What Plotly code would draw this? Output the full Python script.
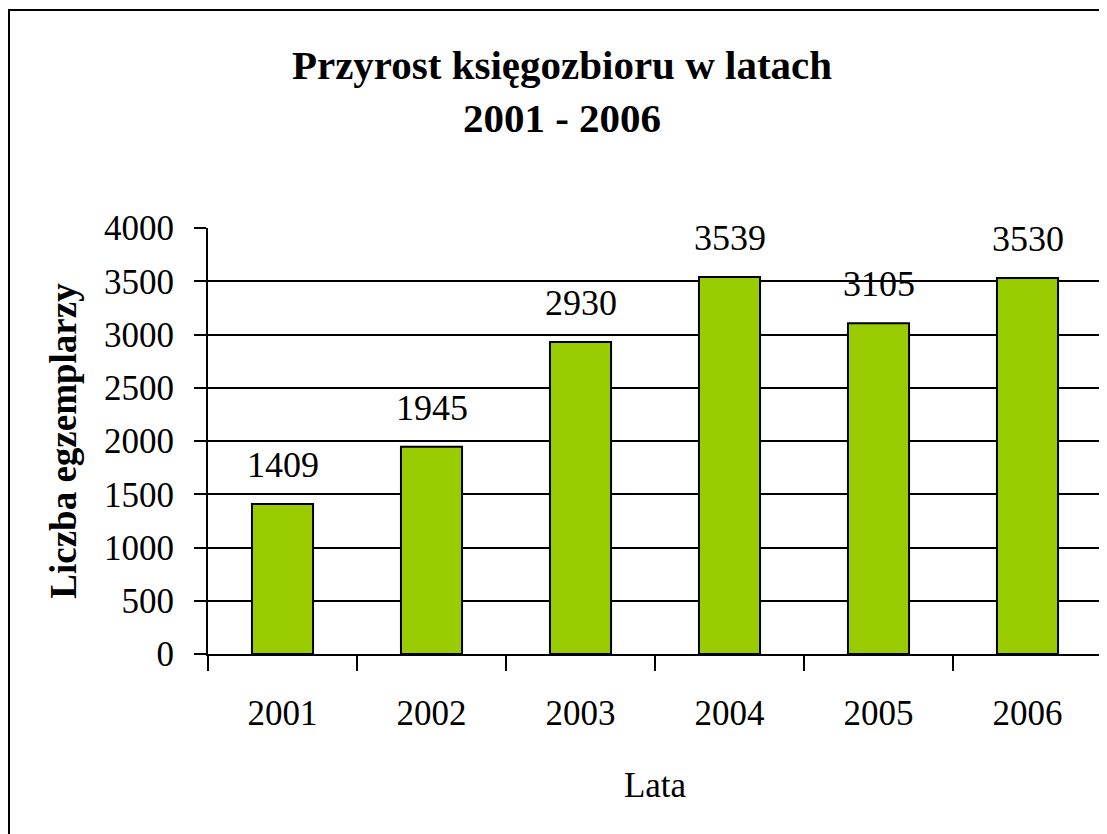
import plotly.graph_objects as go

years = ["2001", "2002", "2003", "2004", "2005", "2006"]
counts = [1409, 1945, 2930, 3539, 3105, 3530]
y_ticks = [0, 500, 1000, 1500, 2000, 2500, 3000, 3500, 4000]
grid_ticks = [500, 1000, 1500, 2000, 2500, 3000, 3500]

FONT = "Liberation Serif, Times New Roman, serif"
# page body has an 8px margin, so the figure is sized to fit the window
W, H = 1099, 826
ML, MR, MT, MB = 200, 5, 220, 180
PW, PH = W - ML - MR, H - MT - MB

fig = go.Figure()
fig.add_trace(go.Bar(
    x=years, y=counts,
    marker=dict(color="#99CC00", line=dict(color="black", width=2)),
    width=0.41,
    showlegend=False,
))

for i, v in enumerate(counts):
    fig.add_annotation(x=i, y=v, text=str(v), showarrow=False,
                       yanchor="bottom", yshift=17,
                       font=dict(family=FONT, size=36, color="black"))

fig.update_layout(
    width=W, height=H,
    margin=dict(l=ML, r=MR, t=MT, b=MB),
    paper_bgcolor="white", plot_bgcolor="white",
    font=dict(family=FONT, size=35, color="black"),
    title=dict(text="<b>Przyrost księgozbioru w latach<br>2001 - 2006</b>",
               x=554 / W, xanchor="center", xref="container",
               y=1 - 71 / H, yanchor="middle", yref="container",
               font=dict(family=FONT, size=41, color="black")),
    xaxis=dict(
        type="category", range=[-0.5, len(years) - 0.5],
        showline=True, linecolor="black", linewidth=2,
        ticks="outside", tickson="boundaries", ticklen=15, tickwidth=2, tickcolor="black",
        showgrid=False, ticklabelstandoff=27, tickangle=0,
        title=dict(text="Lata", standoff=40, font=dict(family=FONT, size=35)),
    ),
    yaxis=dict(
        range=[0, 4000], tickvals=y_ticks, showgrid=False, zeroline=False,
        showline=True, linecolor="black", linewidth=2,
        ticks="outside", ticklen=12, tickwidth=2, tickcolor="black",
        ticklabelstandoff=13,
        minor=dict(tickvals=grid_ticks, showgrid=True, gridcolor="black",
                   gridwidth=2, ticks=""),
        title=dict(text="<b>Liczba egzemplarzy</b>", standoff=16,
                   font=dict(family=FONT, size=37)),
    ),
)

# outer chart frame (right and bottom edges are cut off in the original)
fig.add_shape(type="rect", xref="paper", yref="paper",
              x0=(1 - ML) / PW, x1=1.2,
              y0=-0.6, y1=(H - MB - 2) / PH,
              line=dict(color="black", width=2), fillcolor="rgba(0,0,0,0)", layer="below")

fig.write_html("out.html")
